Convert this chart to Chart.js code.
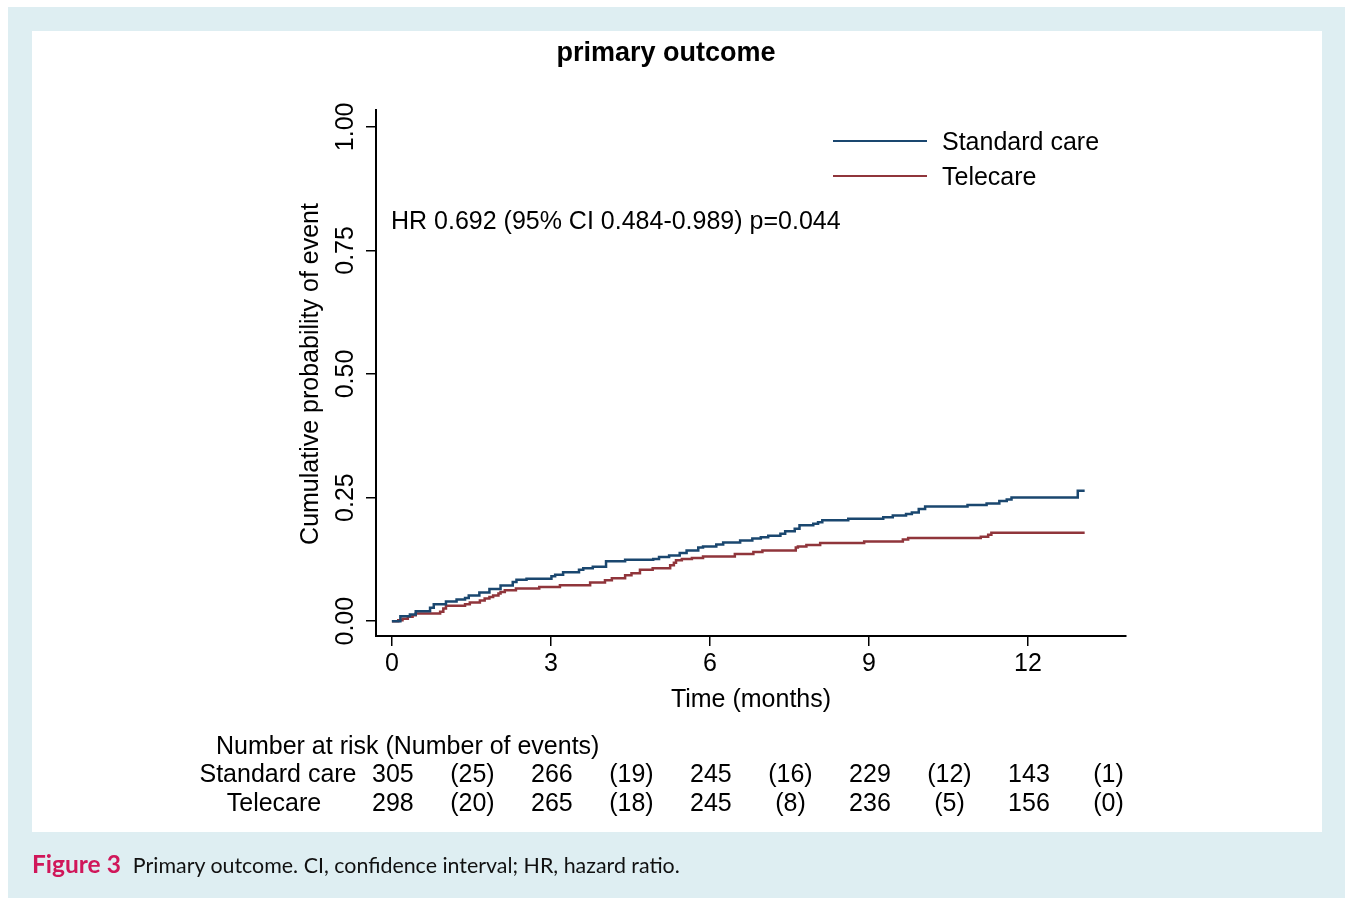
<!DOCTYPE html>
<html>
<head>
<meta charset="utf-8">
<script src="https://cdn.jsdelivr.net/npm/chart.js@4.4.1/dist/chart.umd.min.js"></script>
<style>
  html, body { margin: 0; padding: 0; }
  body { width: 1345px; height: 898px; background: #ffffff; position: relative; overflow: hidden; }
  #frame { position: absolute; left: 8px; top: 7px; width: 1337px; height: 891px; background: #deeef2; }
  #panel { position: absolute; left: 32px; top: 31px; width: 1290px; height: 801px; background: #ffffff; }
  #chart { position: absolute; left: 0; top: 0; }
  #caption { position: absolute; left: 32px; top: 849px; font-family: Lato, "Open Sans", sans-serif; font-size: 21.4px; color: #111; white-space: nowrap; }
  #caption b { color: #d0175a; font-size: 24.5px; margin-right: 12px; }
</style>
</head>
<body>
<div id="frame"></div>
<div id="panel"></div>
<canvas id="chart" width="1345" height="898"></canvas>
<div id="caption"><b>Figure 3</b>Primary outcome. CI, confidence interval; HR, hazard ratio.</div>
<script>
// Kaplan–Meier cumulative incidence, time in months
const standardTime = [0, 0.16, 0.34, 0.45, 0.72, 0.79, 1.02, 1.22, 1.38, 1.45, 1.65, 1.84, 2.05, 2.28, 2.35, 2.54,
  3.01, 3.08, 3.23, 3.53, 3.61, 3.79, 4.04, 4.40, 4.93, 5.04, 5.23, 5.43, 5.56, 5.78, 5.87, 6.12, 6.25, 6.57,
  6.80, 6.96, 7.10, 7.33, 7.42, 7.60, 7.69, 7.95, 8.04, 8.12, 8.61, 9.27, 9.45, 9.70, 9.81, 9.94, 10.06,
  10.86, 11.22, 11.46, 11.60, 11.69, 12.94, 13.07];
const standardProb = [0, 0.010, 0.0135, 0.020, 0.027, 0.034, 0.040, 0.044, 0.047, 0.052, 0.058, 0.065, 0.072, 0.079, 0.084, 0.086,
  0.091, 0.094, 0.099, 0.104, 0.107, 0.110, 0.121, 0.124, 0.126, 0.130, 0.133, 0.138, 0.143, 0.149, 0.151, 0.155, 0.159, 0.163,
  0.167, 0.170, 0.173, 0.177, 0.182, 0.187, 0.194, 0.197, 0.200, 0.204, 0.207, 0.210, 0.214, 0.217, 0.220, 0.227, 0.232,
  0.235, 0.238, 0.243, 0.246, 0.250, 0.264, 0.264];

const telecareTime = [0, 0.12, 0.20, 0.30, 0.39, 0.45, 0.91, 0.97, 1.02, 1.38, 1.47, 1.66, 1.75, 1.84, 1.91, 2.01, 2.05, 2.13,
  2.34, 2.78, 3.17, 3.74, 4.02, 4.15, 4.40, 4.52, 4.68, 4.92, 5.25, 5.32, 5.36, 5.47, 5.66, 5.87, 6.47, 6.82, 6.99,
  7.62, 7.66, 7.82, 8.08, 8.91, 9.64, 9.74, 11.11, 11.25, 11.31, 13.07];
const telecareProb = [0, 0.002, 0.005, 0.009, 0.012, 0.0155, 0.019, 0.0255, 0.031, 0.034, 0.038, 0.042, 0.046, 0.049, 0.052, 0.056, 0.059, 0.0625,
  0.066, 0.069, 0.0726, 0.078, 0.083, 0.087, 0.093, 0.097, 0.104, 0.107, 0.113, 0.118, 0.123, 0.126, 0.128, 0.131, 0.136, 0.140, 0.143,
  0.149, 0.151, 0.154, 0.158, 0.161, 0.165, 0.168, 0.171, 0.175, 0.179, 0.179];

const xTicks = [0, 3, 6, 9, 12];
const yTicks = [0, 0.25, 0.50, 0.75, 1.00];
const yTickLabels = ['0.00', '0.25', '0.50', '0.75', '1.00'];

// Number at risk at each tick, and events in each interval
const riskTimes = [0, 3, 6, 9, 12];
const standardAtRisk = [305, 266, 245, 229, 143];
const standardEvents = [25, 19, 16, 12, 1];
const telecareAtRisk = [298, 265, 245, 236, 156];
const telecareEvents = [20, 18, 8, 5, 0];

const seriesNames = ['Standard care', 'Telecare'];
const seriesColors = ['#1a476f', '#90353b'];

const FONT = '"Liberation Sans", Arial, sans-serif';

function toPoints(ts, ps) { return ts.map((t, i) => ({ x: t, y: ps[i] })); }

const annotations = {
  id: 'annotations',
  afterDraw(chart) {
    const ctx = chart.ctx;
    const xs = chart.scales.x, ys = chart.scales.y;
    ctx.save();
    ctx.fillStyle = '#000';

    // title
    ctx.font = 'bold 27px ' + FONT;
    ctx.textAlign = 'center';
    ctx.textBaseline = 'middle';
    ctx.fillText('primary outcome', 666, 54);

    // y tick labels, rotated
    ctx.font = '25px ' + FONT;
    yTicks.forEach((v, i) => {
      ctx.save();
      ctx.translate(346, ys.getPixelForValue(v));
      ctx.rotate(-Math.PI / 2);
      ctx.textAlign = 'center';
      ctx.textBaseline = 'middle';
      ctx.fillText(yTickLabels[i], 0, 0);
      ctx.restore();
    });

    // y axis title
    ctx.save();
    ctx.translate(311, ys.getPixelForValue(0.50));
    ctx.rotate(-Math.PI / 2);
    ctx.textAlign = 'center';
    ctx.textBaseline = 'middle';
    ctx.fillText('Cumulative probability of event', 0, 0);
    ctx.restore();

    // x axis title
    ctx.textAlign = 'center';
    ctx.textBaseline = 'middle';
    ctx.fillText('Time (months)', 751, 700);

    // hazard ratio
    ctx.textAlign = 'left';
    ctx.fillText('HR 0.692 (95% CI 0.484-0.989) p=0.044', 391, 222);

    // legend
    const legendY = [141, 176];
    seriesNames.forEach((name, i) => {
      ctx.strokeStyle = seriesColors[i];
      ctx.lineWidth = 2;
      ctx.beginPath();
      ctx.moveTo(833, legendY[i]);
      ctx.lineTo(927, legendY[i]);
      ctx.stroke();
      ctx.fillStyle = '#000';
      ctx.textAlign = 'left';
      ctx.fillText(name, 942, legendY[i] + 2);
    });

    // number-at-risk table
    ctx.textAlign = 'left';
    ctx.fillText('Number at risk (Number of events)', 216, 747);
    ctx.textAlign = 'center';
    ctx.fillText('Standard care', 278, 775);
    ctx.fillText('Telecare', 274, 804);
    const rows = [[standardAtRisk, standardEvents, 775], [telecareAtRisk, telecareEvents, 804]];
    rows.forEach(([risk, events, y]) => {
      riskTimes.forEach((t, i) => {
        ctx.fillText(String(risk[i]), xs.getPixelForValue(t) + 1, y);
        ctx.fillText('(' + events[i] + ')', xs.getPixelForValue(t + 1.5) + 1, y);
      });
    });
    ctx.restore();
  }
};

new Chart(document.getElementById('chart'), {
  type: 'line',
  data: {
    datasets: [
      { label: seriesNames[0], data: toPoints(standardTime, standardProb), borderColor: seriesColors[0],
        borderWidth: 2.5, pointRadius: 0, stepped: 'before', fill: false, tension: 0 },
      { label: seriesNames[1], data: toPoints(telecareTime, telecareProb), borderColor: seriesColors[1],
        borderWidth: 2.5, pointRadius: 0, stepped: 'before', fill: false, tension: 0 }
    ]
  },
  options: {
    responsive: false,
    animation: false,
    devicePixelRatio: 1,
    layout: { padding: { left: 0, top: 110, right: 219, bottom: 0 } },
    plugins: { legend: { display: false }, tooltip: { enabled: false }, title: { display: false } },
    scales: {
      x: {
        type: 'linear', min: -0.3, max: 13.85,
        afterBuildTicks(s) { s.ticks = xTicks.map(v => ({ value: v })); },
        afterFit(s) { s.height = 898 - 636; },
        grid: { drawOnChartArea: false, drawTicks: true, tickLength: 10, color: '#000', lineWidth: 1.5 },
        border: { color: '#000', width: 2 },
        ticks: { color: '#000', font: { family: FONT, size: 25 }, padding: 3, maxRotation: 0, autoSkip: false }
      },
      y: {
        type: 'linear', min: -0.03, max: 1.034,
        afterBuildTicks(s) { s.ticks = yTicks.map(v => ({ value: v })); },
        afterFit(s) { s.width = 376; },
        grid: { drawOnChartArea: false, drawTicks: true, tickLength: 10, color: '#000', lineWidth: 1.5 },
        border: { color: '#000', width: 2 },
        ticks: { display: false }
      }
    }
  },
  plugins: [annotations]
});
</script>
</body>
</html>
